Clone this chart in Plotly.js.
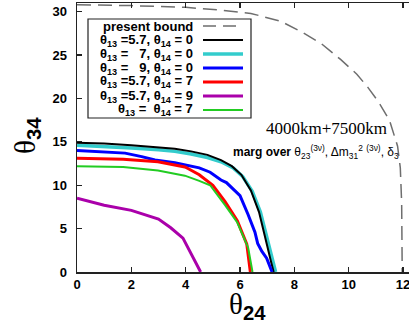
<!DOCTYPE html>
<html>
<head>
<meta charset="utf-8">
<script src="https://cdn.plot.ly/plotly-3.0.1.min.js"></script>
<style>
  body { margin: 0; background: #fff; }
  #myDiv { width: 409px; height: 323px; }
</style>
</head>
<body>
<div id="myDiv"></div>
<script>
// present bound (dashed grey)
var boundX = [0, 2, 4, 5.2, 6.4, 7.5, 8.3, 9.0, 9.7, 10.3, 10.7, 11.1, 11.5, 11.8, 11.9, 11.95, 11.97];
var boundY = [30.8, 30.7, 30.5, 30.2, 29.8, 28.9, 27.6, 26.3, 24.5, 22.8, 21.3, 19.6, 17.5, 14.5, 12, 8, 0];

// theta13 = 5.7, theta14 = 0
var blackX = [0, 1, 2, 3, 3.6, 4.2, 4.8, 5.3, 5.7, 6.05, 6.4, 6.7, 6.92, 7.03, 7.14, 7.24];
var blackY = [14.9, 14.8, 14.6, 14.4, 14.2, 13.9, 13.5, 12.9, 12.2, 11.2, 9.4, 6.9, 4.0, 2.3, 1.2, 0];

// theta13 = 7, theta14 = 0
var cyanX = [0, 1, 2, 3, 3.6, 4.2, 4.8, 5.3, 5.75, 6.1, 6.45, 6.75, 6.97, 7.1, 7.2, 7.31];
var cyanY = [14.6, 14.5, 14.3, 14.1, 13.9, 13.6, 13.2, 12.7, 12.0, 11.0, 9.3, 6.9, 4.2, 2.4, 1.2, 0];

// theta13 = 9, theta14 = 0
var blueX = [0, 1, 1.77, 2.38, 2.87, 3.6, 4.0, 4.5, 4.9, 5.3, 5.5, 6.0, 6.3, 6.55, 6.65, 6.8, 6.98, 7.18];
var blueY = [14.0, 13.85, 13.7, 13.3, 12.9, 12.6, 12.3, 12.0, 11.5, 10.6, 10.3, 8.8, 6.6, 4.6, 3.3, 2.4, 1.6, 0];

// theta13 = 5.7, theta14 = 7
var redX = [0, 1.7, 2.98, 3.97, 4.1, 4.5, 5.0, 5.45, 5.9, 6.25, 6.38];
var redY = [13.1, 13.0, 12.7, 12.1, 11.9, 11.2, 10.0, 8.1, 5.9, 3.2, 0];

// theta13 = 5.7, theta14 = 9
var purpleX = [0, 1, 2, 3, 3.45, 3.9, 4.55];
var purpleY = [8.5, 7.7, 7.1, 6.1, 5.1, 3.9, 0];

// theta13 = theta14 = 7
var greenX = [0, 1.7, 2.98, 3.97, 4.5, 4.9, 5.45, 5.9, 6.3, 6.46];
var greenY = [12.2, 12.1, 11.7, 11.1, 10.5, 10.0, 7.7, 5.7, 2.8, 0];

var legendLabels = [
    "present bound",
    "θ<sub>13</sub> =5.7, θ<sub>14</sub> = 0",
    "θ<sub>13</sub> =\u00a0\u00a0\u00a07, θ<sub>14</sub> = 0",
    "θ<sub>13</sub> =\u00a0\u00a0\u00a09, θ<sub>14</sub> = 0",
    "θ<sub>13</sub> =5.7, θ<sub>14</sub> = 7",
    "θ<sub>13</sub> =5.7, θ<sub>14</sub> = 9",
    "θ<sub>13</sub> =\u00a0\u00a0θ<sub>14</sub> = 7"
];
var legendColors = ["#6e6e6e", "#000000", "#33cccc", "#0000ff", "#ff0000", "#aa00aa", "#22cc22"];
var legendWidths = [1.5, 2, 3.5, 3, 3, 3, 2];

var line = function(x, y, color, width, dash) {
    return {
        x: x,
        y: y,
        mode: "lines",
        type: "scatter",
        line: {color: color, width: width, dash: dash || "solid"},
        showlegend: false,
        hoverinfo: "skip"
    };
};

var data = [
    line(boundX, boundY, legendColors[0], 1.5, "14px,7px"),
    line(cyanX, cyanY, legendColors[2], 3.5),
    line(blackX, blackY, legendColors[1], 2),
    line(blueX, blueY, legendColors[3], 3),
    line(redX, redY, legendColors[4], 3),
    line(greenX, greenY, legendColors[6], 2),
    line(purpleX, purpleY, legendColors[5], 3)
];

// pixel -> paper helpers (plot area 77..409 x, 3..272 y)
var px = function(p) { return (p - 77) / 332; };
var py = function(p) { return (272 - p) / 269; };

var rowY = [26, 40, 54, 68, 82, 96, 110];

var shapes = [{
    type: "rect", xref: "paper", yref: "paper",
    x0: px(88), x1: px(251), y0: py(118), y1: py(19),
    line: {color: "#222", width: 1.2}, fillcolor: "rgba(255,255,255,0)"
}];
var annotations = [];
for (var i = 0; i < legendLabels.length; i++) {
    shapes.push({
        type: "line", xref: "paper", yref: "paper",
        x0: px(203), x1: px(243), y0: py(rowY[i]), y1: py(rowY[i]),
        line: {color: legendColors[i], width: legendWidths[i], dash: i == 0 ? "13px,7px" : "solid"}
    });
    annotations.push({
        xref: "paper", yref: "paper", x: px(195), y: py(rowY[i]),
        xanchor: "right", yanchor: "middle", showarrow: false,
        text: legendLabels[i],
        font: {family: "Liberation Sans", size: 13, color: "#000", weight: "bold"}
    });
}

var sansSub = function(t) {
    return "<sub><span style='font-family:Liberation Sans;font-weight:bold'>" + t + "</span></sub>";
};

annotations.push({
    xref: "paper", yref: "paper", x: px(389), y: py(128),
    xanchor: "right", yanchor: "middle", showarrow: false,
    text: "4000km+7500km",
    font: {family: "Liberation Serif", size: 17, color: "#000"}
});
annotations.push({
    xref: "paper", yref: "paper", x: px(401), y: py(152),
    xanchor: "right", yanchor: "middle", showarrow: false,
    text: "<b>marg over</b> θ<sub>23</sub><sup>(3ν)</sup>, Δm<sub>31</sub><sup>2</sup> <sup>(3ν)</sup>, δ<sub>3</sub>",
    font: {family: "Liberation Sans", size: 12, color: "#000"}
});
annotations.push({
    xref: "paper", yref: "paper", x: px(247), y: py(306),
    xanchor: "center", yanchor: "middle", showarrow: false,
    text: "θ" + sansSub("24"),
    font: {family: "Liberation Serif", size: 29, color: "#000"}
});
annotations.push({
    xref: "paper", yref: "paper", x: px(27), y: py(135),
    xanchor: "center", yanchor: "middle", showarrow: false, textangle: -90,
    text: "θ" + sansSub("34"),
    font: {family: "Liberation Serif", size: 29, color: "#000"}
});

var axisFont = {family: "Liberation Sans", size: 13, color: "#000", weight: "bold"};

var layout = {
    width: 409,
    height: 323,
    margin: {l: 77, r: 0, t: 3, b: 51},
    paper_bgcolor: "#fff",
    plot_bgcolor: "#fff",
    showlegend: false,
    xaxis: {
        range: [0, 12.22],
        tick0: 0,
        dtick: 2,
        ticks: "inside",
        ticklen: 5,
        tickwidth: 1.2,
        tickcolor: "#222",
        showline: true,
        linecolor: "#222",
        linewidth: 1.5,
        mirror: "ticks",
        showgrid: false,
        zeroline: false,
        ticklabeloverflow: "allow",
        tickfont: axisFont
    },
    yaxis: {
        range: [0, 31],
        tick0: 0,
        dtick: 5,
        ticks: "inside",
        ticklen: 5,
        tickwidth: 1.2,
        tickcolor: "#222",
        showline: true,
        linecolor: "#222",
        linewidth: 1.5,
        showgrid: false,
        zeroline: false,
        ticklabelstandoff: 6,
        tickfont: axisFont
    },
    shapes: shapes,
    annotations: annotations
};

Plotly.newPlot("myDiv", data, layout, {staticPlot: true});
</script>
</body>
</html>
